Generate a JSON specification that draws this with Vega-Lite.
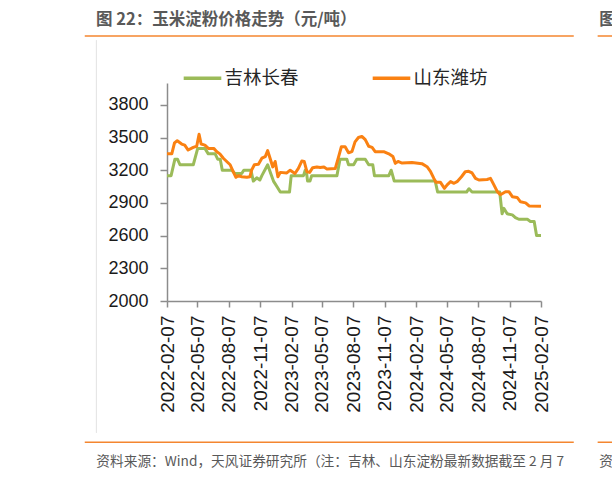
{
  "$schema": "https://vega.github.io/schema/vega-lite/v6.json",
  "width": 374,
  "height": 218,
  "autosize": {"type": "none"},
  "padding": {"left": 167, "top": 83, "right": 71, "bottom": 177},
  "background": "white",
  "config": {"view": {"stroke": null}},
  "layer": [
    {
      "data": {"values": [{}]},
      "mark": {"type": "rule", "color": "#F4862F", "strokeWidth": 1.5},
      "encoding": {
        "x": {"datum": {"year": 2021, "month": 6, "date": 11, "utc": true}, "type": "temporal"},
        "x2": {"datum": {"year": 2025, "month": 5, "date": 14, "utc": true}},
        "y": {"datum": 4431, "type": "quantitative"}
      }
    },
    {
      "data": {"values": [{}]},
      "mark": {"type": "rule", "color": "#F4862F", "strokeWidth": 1.5},
      "encoding": {
        "x": {"datum": {"year": 2025, "month": 7, "date": 23, "utc": true}, "type": "temporal"},
        "x2": {"datum": {"year": 2025, "month": 12, "date": 1, "utc": true}},
        "y": {"datum": 4431, "type": "quantitative"}
      }
    },
    {
      "data": {"values": [{}]},
      "mark": {"type": "rule", "color": "#F4862F", "strokeWidth": 1.5},
      "encoding": {
        "x": {"datum": {"year": 2021, "month": 6, "date": 11, "utc": true}, "type": "temporal"},
        "x2": {"datum": {"year": 2025, "month": 5, "date": 14, "utc": true}},
        "y": {"datum": 704, "type": "quantitative"}
      }
    },
    {
      "data": {"values": [{}]},
      "mark": {"type": "rule", "color": "#F4862F", "strokeWidth": 1.5},
      "encoding": {
        "x": {"datum": {"year": 2025, "month": 7, "date": 23, "utc": true}, "type": "temporal"},
        "x2": {"datum": {"year": 2025, "month": 12, "date": 1, "utc": true}},
        "y": {"datum": 704, "type": "quantitative"}
      }
    },
    {
      "data": {"values": [{}]},
      "mark": {"type": "rule", "color": "#E3E3E3", "strokeWidth": 1},
      "encoding": {
        "x": {"datum": {"year": 2021, "month": 7, "date": 15, "utc": true}, "type": "temporal"},
        "y": {"datum": 4394, "type": "quantitative"},
        "y2": {"datum": 789}
      }
    },
    {
      "data": {"values": [{"label": "图 22：玉米淀粉价格走势（元/吨）"}]},
      "mark": {"type": "text", "align": "left", "baseline": "middle", "font": "Noto Sans CJK SC", "fontSize": 16.5, "fontWeight": "bold", "color": "#595959"},
      "encoding": {
        "x": {"datum": {"year": 2021, "month": 7, "date": 14, "utc": true}, "type": "temporal"},
        "y": {"datum": 4578, "type": "quantitative"},
        "text": {"field": "label"}
      }
    },
    {
      "data": {"values": [{"label": "图"}]},
      "mark": {"type": "text", "align": "left", "baseline": "middle", "font": "Noto Sans CJK SC", "fontSize": 16.5, "fontWeight": "bold", "color": "#595959"},
      "encoding": {
        "x": {"datum": {"year": 2025, "month": 7, "date": 28, "utc": true}, "type": "temporal"},
        "y": {"datum": 4578, "type": "quantitative"},
        "text": {"field": "label"}
      }
    },
    {
      "data": {"values": [{"label": "资料来源：Wind，天风证券研究所（注：吉林、山东淀粉最新数据截至 2 月 7"}]},
      "mark": {"type": "text", "align": "left", "baseline": "middle", "font": "Noto Sans CJK SC", "fontSize": 13.7, "color": "#595959"},
      "encoding": {
        "x": {"datum": {"year": 2021, "month": 7, "date": 15, "utc": true}, "type": "temporal"},
        "y": {"datum": 526, "type": "quantitative"},
        "text": {"field": "label"}
      }
    },
    {
      "data": {"values": [{"label": "资"}]},
      "mark": {"type": "text", "align": "left", "baseline": "middle", "font": "Noto Sans CJK SC", "fontSize": 13.7, "color": "#595959"},
      "encoding": {
        "x": {"datum": {"year": 2025, "month": 7, "date": 28, "utc": true}, "type": "temporal"},
        "y": {"datum": 526, "type": "quantitative"},
        "text": {"field": "label"}
      }
    },
    {
      "data": {
        "values": [
          {"date": "2022-02-07", "city": "吉林长春", "price": 3150},
          {"date": "2022-02-19", "city": "吉林长春", "price": 3150},
          {"date": "2022-03-02", "city": "吉林长春", "price": 3300},
          {"date": "2022-03-10", "city": "吉林长春", "price": 3300},
          {"date": "2022-03-17", "city": "吉林长春", "price": 3250},
          {"date": "2022-04-25", "city": "吉林长春", "price": 3250},
          {"date": "2022-05-08", "city": "吉林长春", "price": 3400},
          {"date": "2022-05-29", "city": "吉林长春", "price": 3400},
          {"date": "2022-06-08", "city": "吉林长春", "price": 3350},
          {"date": "2022-06-28", "city": "吉林长春", "price": 3350},
          {"date": "2022-07-06", "city": "吉林长春", "price": 3300},
          {"date": "2022-07-13", "city": "吉林长春", "price": 3300},
          {"date": "2022-07-19", "city": "吉林长春", "price": 3200},
          {"date": "2022-08-16", "city": "吉林长春", "price": 3200},
          {"date": "2022-08-25", "city": "吉林长春", "price": 3170},
          {"date": "2022-09-14", "city": "吉林长春", "price": 3170},
          {"date": "2022-09-20", "city": "吉林长春", "price": 3200},
          {"date": "2022-10-11", "city": "吉林长春", "price": 3200},
          {"date": "2022-10-18", "city": "吉林长春", "price": 3100},
          {"date": "2022-10-28", "city": "吉林长春", "price": 3130},
          {"date": "2022-11-06", "city": "吉林长春", "price": 3110},
          {"date": "2022-11-12", "city": "吉林长春", "price": 3150},
          {"date": "2022-11-29", "city": "吉林长春", "price": 3250},
          {"date": "2022-12-08", "city": "吉林长春", "price": 3170},
          {"date": "2022-12-16", "city": "吉林长春", "price": 3100},
          {"date": "2022-12-26", "city": "吉林长春", "price": 3050},
          {"date": "2023-01-05", "city": "吉林长春", "price": 3000},
          {"date": "2023-02-01", "city": "吉林长春", "price": 3000},
          {"date": "2023-02-06", "city": "吉林长春", "price": 3150},
          {"date": "2023-03-14", "city": "吉林长春", "price": 3150},
          {"date": "2023-03-19", "city": "吉林长春", "price": 3200},
          {"date": "2023-03-22", "city": "吉林长春", "price": 3200},
          {"date": "2023-03-26", "city": "吉林长春", "price": 3100},
          {"date": "2023-04-02", "city": "吉林长春", "price": 3100},
          {"date": "2023-04-07", "city": "吉林长春", "price": 3150},
          {"date": "2023-06-20", "city": "吉林长春", "price": 3150},
          {"date": "2023-06-29", "city": "吉林长春", "price": 3300},
          {"date": "2023-07-19", "city": "吉林长春", "price": 3300},
          {"date": "2023-07-24", "city": "吉林长春", "price": 3250},
          {"date": "2023-08-08", "city": "吉林长春", "price": 3250},
          {"date": "2023-08-17", "city": "吉林长春", "price": 3300},
          {"date": "2023-09-11", "city": "吉林长春", "price": 3300},
          {"date": "2023-09-21", "city": "吉林长春", "price": 3250},
          {"date": "2023-10-03", "city": "吉林长春", "price": 3250},
          {"date": "2023-10-08", "city": "吉林长春", "price": 3150},
          {"date": "2023-11-19", "city": "吉林长春", "price": 3150},
          {"date": "2023-11-26", "city": "吉林长春", "price": 3200},
          {"date": "2023-12-05", "city": "吉林长春", "price": 3100},
          {"date": "2024-04-03", "city": "吉林长春", "price": 3100},
          {"date": "2024-04-10", "city": "吉林长春", "price": 3000},
          {"date": "2024-07-04", "city": "吉林长春", "price": 3000},
          {"date": "2024-07-11", "city": "吉林长春", "price": 3030},
          {"date": "2024-07-20", "city": "吉林长春", "price": 3000},
          {"date": "2024-10-09", "city": "吉林长春", "price": 3000},
          {"date": "2024-10-16", "city": "吉林长春", "price": 2800},
          {"date": "2024-10-21", "city": "吉林长春", "price": 2850},
          {"date": "2024-10-31", "city": "吉林长春", "price": 2800},
          {"date": "2024-11-15", "city": "吉林长春", "price": 2790},
          {"date": "2024-11-24", "city": "吉林长春", "price": 2765},
          {"date": "2024-12-04", "city": "吉林长春", "price": 2750},
          {"date": "2024-12-29", "city": "吉林长春", "price": 2750},
          {"date": "2025-01-07", "city": "吉林长春", "price": 2730},
          {"date": "2025-01-18", "city": "吉林长春", "price": 2730},
          {"date": "2025-01-25", "city": "吉林长春", "price": 2600},
          {"date": "2025-02-07", "city": "吉林长春", "price": 2600},
          {"date": "2022-02-07", "city": "山东潍坊", "price": 3350},
          {"date": "2022-02-21", "city": "山东潍坊", "price": 3350},
          {"date": "2022-03-01", "city": "山东潍坊", "price": 3450},
          {"date": "2022-03-09", "city": "山东潍坊", "price": 3470},
          {"date": "2022-03-22", "city": "山东潍坊", "price": 3440},
          {"date": "2022-03-31", "city": "山东潍坊", "price": 3430},
          {"date": "2022-04-10", "city": "山东潍坊", "price": 3385},
          {"date": "2022-04-25", "city": "山东潍坊", "price": 3410},
          {"date": "2022-05-05", "city": "山东潍坊", "price": 3420},
          {"date": "2022-05-12", "city": "山东潍坊", "price": 3530},
          {"date": "2022-05-18", "city": "山东潍坊", "price": 3440},
          {"date": "2022-05-29", "city": "山东潍坊", "price": 3430},
          {"date": "2022-06-08", "city": "山东潍坊", "price": 3400},
          {"date": "2022-06-24", "city": "山东潍坊", "price": 3400},
          {"date": "2022-07-03", "city": "山东潍坊", "price": 3370},
          {"date": "2022-07-12", "city": "山东潍坊", "price": 3350},
          {"date": "2022-07-22", "city": "山东潍坊", "price": 3310},
          {"date": "2022-08-01", "city": "山东潍坊", "price": 3280},
          {"date": "2022-08-11", "city": "山东潍坊", "price": 3250},
          {"date": "2022-08-21", "city": "山东潍坊", "price": 3180},
          {"date": "2022-08-28", "city": "山东潍坊", "price": 3135},
          {"date": "2022-09-04", "city": "山东潍坊", "price": 3150},
          {"date": "2022-09-14", "city": "山东潍坊", "price": 3140},
          {"date": "2022-09-29", "city": "山东潍坊", "price": 3135},
          {"date": "2022-10-08", "city": "山东潍坊", "price": 3140},
          {"date": "2022-10-13", "city": "山东潍坊", "price": 3200},
          {"date": "2022-10-21", "city": "山东潍坊", "price": 3250},
          {"date": "2022-11-02", "city": "山东潍坊", "price": 3255},
          {"date": "2022-11-12", "city": "山东潍坊", "price": 3310},
          {"date": "2022-11-22", "city": "山东潍坊", "price": 3325},
          {"date": "2022-11-29", "city": "山东潍坊", "price": 3380},
          {"date": "2022-12-06", "city": "山东潍坊", "price": 3310},
          {"date": "2022-12-14", "city": "山东潍坊", "price": 3230},
          {"date": "2022-12-21", "city": "山东潍坊", "price": 3280},
          {"date": "2022-12-29", "city": "山东潍坊", "price": 3140},
          {"date": "2023-01-05", "city": "山东潍坊", "price": 3180},
          {"date": "2023-01-24", "city": "山东潍坊", "price": 3175},
          {"date": "2023-02-03", "city": "山东潍坊", "price": 3200},
          {"date": "2023-02-17", "city": "山东潍坊", "price": 3170},
          {"date": "2023-02-27", "city": "山东潍坊", "price": 3217},
          {"date": "2023-03-09", "city": "山东潍坊", "price": 3284},
          {"date": "2023-03-16", "city": "山东潍坊", "price": 3280},
          {"date": "2023-03-24", "city": "山东潍坊", "price": 3186},
          {"date": "2023-04-01", "city": "山东潍坊", "price": 3180},
          {"date": "2023-04-10", "city": "山东潍坊", "price": 3223},
          {"date": "2023-04-22", "city": "山东潍坊", "price": 3230},
          {"date": "2023-05-02", "city": "山东潍坊", "price": 3225},
          {"date": "2023-05-13", "city": "山东潍坊", "price": 3230},
          {"date": "2023-05-22", "city": "山东潍坊", "price": 3210},
          {"date": "2023-06-15", "city": "山东潍坊", "price": 3215},
          {"date": "2023-06-25", "city": "山东潍坊", "price": 3324},
          {"date": "2023-07-03", "city": "山东潍坊", "price": 3415},
          {"date": "2023-07-14", "city": "山东潍坊", "price": 3415},
          {"date": "2023-07-24", "city": "山东潍坊", "price": 3360},
          {"date": "2023-08-03", "city": "山东潍坊", "price": 3370},
          {"date": "2023-08-12", "city": "山东潍坊", "price": 3460},
          {"date": "2023-08-22", "city": "山东潍坊", "price": 3500},
          {"date": "2023-09-01", "city": "山东潍坊", "price": 3510},
          {"date": "2023-09-11", "city": "山东潍坊", "price": 3480},
          {"date": "2023-09-21", "city": "山东潍坊", "price": 3420},
          {"date": "2023-10-01", "city": "山东潍坊", "price": 3410},
          {"date": "2023-10-10", "city": "山东潍坊", "price": 3370},
          {"date": "2023-11-04", "city": "山东潍坊", "price": 3370},
          {"date": "2023-11-19", "city": "山东潍坊", "price": 3350},
          {"date": "2023-12-01", "city": "山东潍坊", "price": 3325},
          {"date": "2023-12-08", "city": "山东潍坊", "price": 3263},
          {"date": "2023-12-16", "city": "山东潍坊", "price": 3280},
          {"date": "2023-12-28", "city": "山东潍坊", "price": 3265},
          {"date": "2024-01-26", "city": "山东潍坊", "price": 3270},
          {"date": "2024-02-24", "city": "山东潍坊", "price": 3260},
          {"date": "2024-03-10", "city": "山东潍坊", "price": 3232},
          {"date": "2024-03-20", "city": "山东潍坊", "price": 3190},
          {"date": "2024-03-30", "city": "山东潍坊", "price": 3125},
          {"date": "2024-04-05", "city": "山东潍坊", "price": 3090},
          {"date": "2024-04-18", "city": "山东潍坊", "price": 3090},
          {"date": "2024-04-30", "city": "山东潍坊", "price": 3034},
          {"date": "2024-05-08", "city": "山东潍坊", "price": 3065},
          {"date": "2024-05-18", "city": "山东潍坊", "price": 3095},
          {"date": "2024-05-28", "city": "山东潍坊", "price": 3080},
          {"date": "2024-06-06", "city": "山东潍坊", "price": 3095},
          {"date": "2024-06-19", "city": "山东潍坊", "price": 3140},
          {"date": "2024-06-30", "city": "山东潍坊", "price": 3186},
          {"date": "2024-07-10", "city": "山东潍坊", "price": 3190},
          {"date": "2024-07-20", "city": "山东潍坊", "price": 3175},
          {"date": "2024-07-30", "city": "山东潍坊", "price": 3125},
          {"date": "2024-08-09", "city": "山东潍坊", "price": 3110},
          {"date": "2024-09-02", "city": "山东潍坊", "price": 3115},
          {"date": "2024-09-12", "city": "山东潍坊", "price": 3125},
          {"date": "2024-09-22", "city": "山东潍坊", "price": 3065},
          {"date": "2024-10-02", "city": "山东潍坊", "price": 3003},
          {"date": "2024-10-11", "city": "山东潍坊", "price": 2975},
          {"date": "2024-10-26", "city": "山东潍坊", "price": 3003},
          {"date": "2024-11-05", "city": "山东潍坊", "price": 3003},
          {"date": "2024-11-15", "city": "山东潍坊", "price": 2957},
          {"date": "2024-11-29", "city": "山东潍坊", "price": 2950},
          {"date": "2024-12-09", "city": "山东潍坊", "price": 2910},
          {"date": "2024-12-24", "city": "山东潍坊", "price": 2900},
          {"date": "2025-01-03", "city": "山东潍坊", "price": 2872},
          {"date": "2025-02-07", "city": "山东潍坊", "price": 2870}
        ]
      },
      "mark": {"type": "line", "strokeWidth": 3, "strokeJoin": "round"},
      "encoding": {
        "x": {
          "field": "date",
          "type": "temporal",
          "scale": {
            "type": "utc",
            "nice": false,
            "domain": [
              {"year": 2022, "month": 2, "date": 7, "utc": true},
              {"year": 2025, "month": 2, "date": 7, "utc": true}
            ]
          },
          "axis": {
            "title": null,
            "grid": false,
            "tickCount": 30,
            "values": [
              {"year": 2022, "month": 2, "date": 7, "utc": true},
              {"year": 2022, "month": 5, "date": 7, "utc": true},
              {"year": 2022, "month": 8, "date": 7, "utc": true},
              {"year": 2022, "month": 11, "date": 7, "utc": true},
              {"year": 2023, "month": 2, "date": 7, "utc": true},
              {"year": 2023, "month": 5, "date": 7, "utc": true},
              {"year": 2023, "month": 8, "date": 7, "utc": true},
              {"year": 2023, "month": 11, "date": 7, "utc": true},
              {"year": 2024, "month": 2, "date": 7, "utc": true},
              {"year": 2024, "month": 5, "date": 7, "utc": true},
              {"year": 2024, "month": 8, "date": 7, "utc": true},
              {"year": 2024, "month": 11, "date": 7, "utc": true},
              {"year": 2025, "month": 2, "date": 7, "utc": true}
            ],
            "format": "%Y-%m-%d",
            "labelAngle": 270,
            "labelAlign": "right",
            "labelBaseline": "middle",
            "labelFont": "Liberation Sans",
            "labelFontSize": 19,
            "labelColor": "#1a1a1a",
            "labelPadding": 8,
            "labelOverlap": false,
            "labelFlush": false,
            "labelBound": false,
            "tickSize": 6,
            "tickColor": "#8c8c8c",
            "domainColor": "#8c8c8c",
            "tickWidth": 1.5,
            "domainWidth": 1.5
          }
        },
        "y": {
          "field": "price",
          "type": "quantitative",
          "scale": {"domain": [2000, 4000], "nice": false, "zero": false},
          "axis": {
            "title": null,
            "grid": false,
            "tickCount": 30,
            "values": [2000, 2300, 2600, 2900, 3200, 3500, 3800],
            "format": "d",
            "labelOverlap": false,
            "labelFont": "Liberation Sans",
            "labelFontSize": 18,
            "labelColor": "#1a1a1a",
            "labelPadding": 12,
            "tickSize": 7,
            "tickColor": "#8c8c8c",
            "domainColor": "#8c8c8c",
            "tickWidth": 1.5,
            "domainWidth": 1.5
          }
        },
        "color": {
          "field": "city",
          "type": "nominal",
          "scale": {"domain": ["吉林长春", "山东潍坊"], "range": ["#9BBB59", "#FA8112"]},
          "legend": {
            "title": null,
            "orient": "none",
            "legendX": 14.5,
            "legendY": -26,
            "direction": "horizontal",
            "columns": 2,
            "padding": 0,
            "symbolType": "stroke",
            "symbolSize": 1414,
            "symbolStrokeWidth": 3.5,
            "labelFont": "Noto Sans CJK SC",
            "labelFontSize": 18.5,
            "labelColor": "#262626",
            "labelOffset": 1,
            "columnPadding": 66
          }
        }
      }
    }
  ]
}
